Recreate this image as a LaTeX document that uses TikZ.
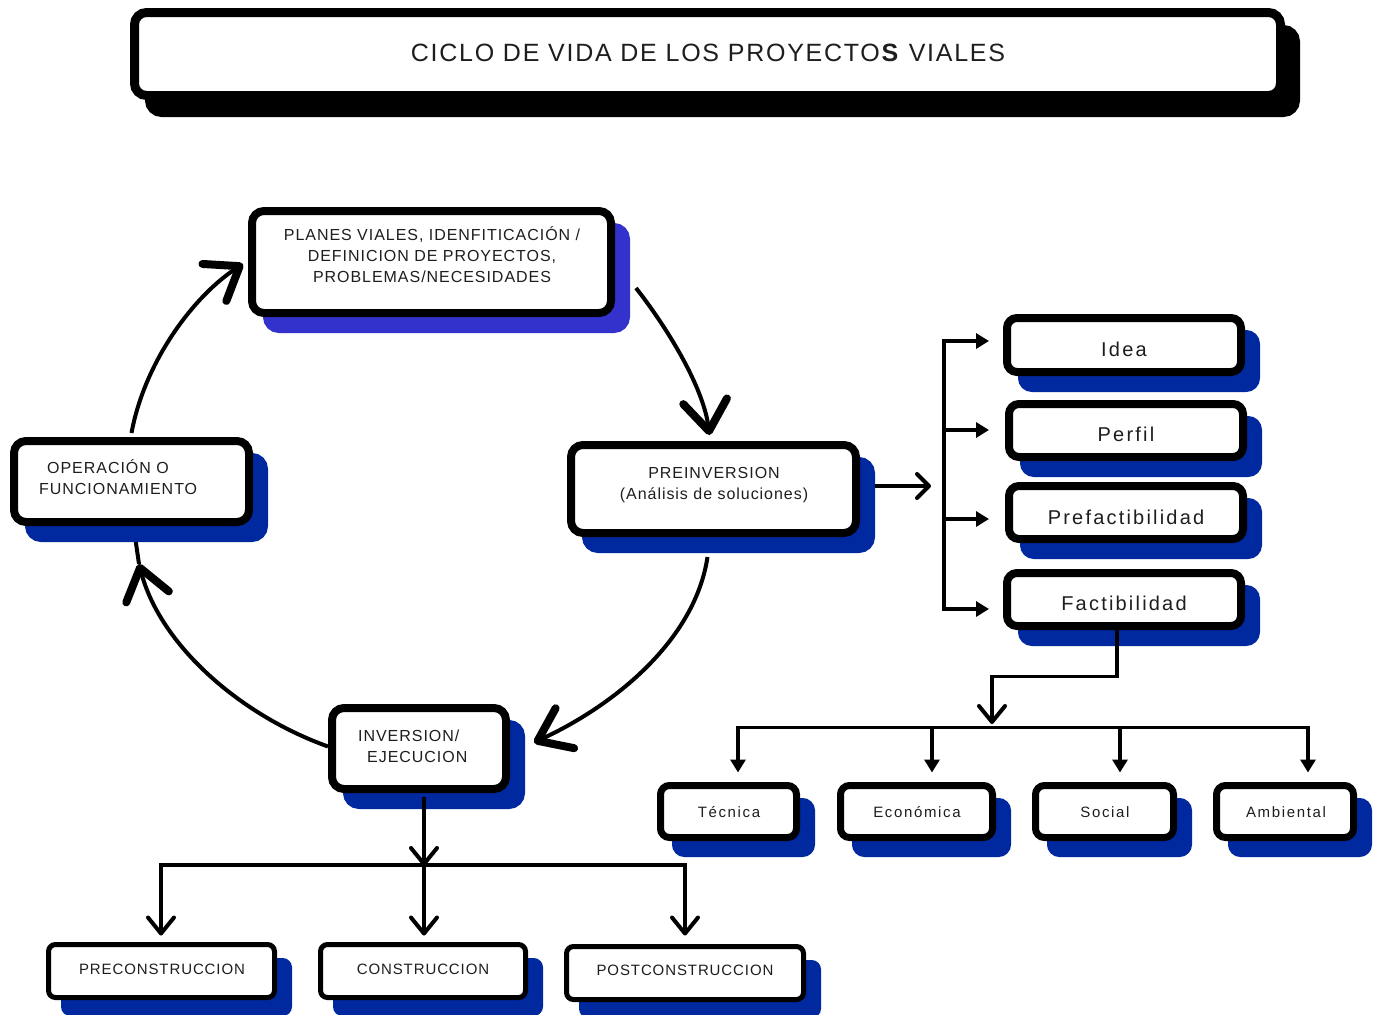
\documentclass[tikz,border=0pt]{standalone}
\usepackage{fontspec}
\setmainfont{Liberation Sans}
\newfontfamily\fTitle[LetterSpace=7]{Liberation Sans}
\newfontfamily\fCyc[LetterSpace=6]{Liberation Sans}
\newfontfamily\fWide[LetterSpace=11]{Liberation Sans}
\newfontfamily\fBot[LetterSpace=6]{Liberation Sans}
\usetikzlibrary{arrows.meta,shadows,calc}
\definecolor{shb}{RGB}{0,41,160}
\definecolor{shp}{RGB}{52,50,204}
\definecolor{txt}{RGB}{30,30,30}
\pgfdeclarelayer{bg}
\pgfsetlayers{bg,main}
\begin{document}
\begin{tikzpicture}[x=1pt,y=-1pt,
  box/.style={draw=black, fill=white, inner sep=0pt, line width=#1},
  sh/.style={general shadow={shadow xshift=15pt, shadow yshift=-16pt, fill=#1, draw=#1}},
  tn/.style={inner sep=0pt, text=txt, text depth=0pt},
  cyc/.style={line width=4pt, -{Straight Barb[length=30pt,width=44pt,line width=8pt,round]}},
  conn/.style={line width=3.5pt},
  tri/.style={-{Triangle[length=13pt,width=15pt]}},
  bothtri/.style={{Triangle[length=13pt,width=15pt]}-{Triangle[length=13pt,width=15pt]}},
  barb/.style={-{Straight Barb[length=12pt,width=24pt,line width=4pt,round]}},
  barbB/.style={-{Straight Barb[length=16pt,width=26pt,line width=4pt,round]}},
  bothbarb/.style={{Straight Barb[length=16pt,width=26pt,line width=4pt,round]}-{Straight Barb[length=16pt,width=26pt,line width=4pt,round]}},
  fcyc/.style={font=\fCyc\fontsize{16}{21}\selectfont, text height=11.4pt},
  fwide/.style={font=\fWide\fontsize{20}{24}\selectfont, text height=14.3pt},
  flow/.style={font=\fWide\fontsize{15}{18}\selectfont, text height=10.7pt},
  fbot/.style={font=\fBot\fontsize{15}{18}\selectfont, text height=10.7pt}
]
\useasboundingbox (0,0) rectangle (1382,1015);

% ---------- boxes ----------
\node[box=9pt, rounded corners=12pt, general shadow={shadow xshift=15pt, shadow yshift=-17pt, fill=black, draw=black},
      minimum width=1146pt, minimum height=83pt] (title) at (707.5,54) {};

\node[box=8pt, rounded corners=12pt, sh=shp, minimum width=359pt, minimum height=102pt] (plan) at (431.5,262) {};
\node[box=8pt, rounded corners=12pt, sh=shb, minimum width=235pt, minimum height=81pt] (op) at (131.5,481.5) {};
\node[box=8pt, rounded corners=12pt, sh=shb, minimum width=285pt, minimum height=88pt] (pre) at (713.5,489) {};
\node[box=8pt, rounded corners=12pt, sh=shb, minimum width=174pt, minimum height=81pt] (inv) at (419,748.5) {};

\node[box=8pt, rounded corners=10pt, sh=shb, minimum width=234pt, minimum height=54pt] (idea) at (1124,345) {};
\node[box=8pt, rounded corners=10pt, sh=shb, minimum width=234pt, minimum height=53pt] (perf) at (1126,430.5) {};
\node[box=8pt, rounded corners=10pt, sh=shb, minimum width=234pt, minimum height=53pt] (pref) at (1126,512.5) {};
\node[box=8pt, rounded corners=10pt, sh=shb, minimum width=234pt, minimum height=53pt] (fact) at (1124,599.5) {};

\node[box=7pt, rounded corners=9pt, sh=shb, minimum width=136pt, minimum height=52pt] (tec) at (728.5,811.5) {};
\node[box=7pt, rounded corners=9pt, sh=shb, minimum width=152pt, minimum height=52pt] (eco) at (916.5,811.5) {};
\node[box=7pt, rounded corners=9pt, sh=shb, minimum width=138pt, minimum height=52pt] (soc) at (1104.5,811.5) {};
\node[box=7pt, rounded corners=9pt, sh=shb, minimum width=137pt, minimum height=52pt] (amb) at (1285,811.5) {};

\node[box=5pt, rounded corners=7pt, sh=shb, minimum width=226pt, minimum height=53pt] (precon) at (161.5,971) {};
\node[box=5pt, rounded corners=7pt, sh=shb, minimum width=205pt, minimum height=53pt] (con) at (423,971) {};
\node[box=5pt, rounded corners=7pt, sh=shb, minimum width=237pt, minimum height=53pt] (post) at (685,973) {};

% ---------- texts ----------
\node[tn, font=\fTitle\fontsize{25}{30}\selectfont, text height=17.9pt] (ttlT) at (708,53)
  {CICLO DE VIDA DE LOS PROYECTO\textbf{S} VIALES};
\node[tn, fcyc, align=center, text height=53.4pt] (planT) at (432,256)
  {PLANES VIALES, IDENFITICACIÓN /\\DEFINICION DE PROYECTOS,\\PROBLEMAS/NECESIDADES};
\node[tn, fcyc, align=center, text height=32.4pt] (preT) at (714,483.5) {PREINVERSION\\(Análisis de soluciones)};
\node[tn, fcyc, align=left, anchor=west, text height=32.4pt] (opT) at (39,478.5) {\hspace*{8pt}OPERACIÓN O\\FUNCIONAMIENTO};
\node[tn, fcyc, align=left, anchor=west, text height=32.4pt] (invT) at (358,746.5) {INVERSION/\\\hspace*{9pt}EJECUCION};

\node[tn, fwide] (ideaT) at (1124,349) {Idea};
\node[tn, fwide] (perfT) at (1126,434) {Perfil};
\node[tn, fwide] (prefT) at (1126,517) {Prefactibilidad};
\node[tn, fwide] (factT) at (1124,603) {Factibilidad};

\node[tn, flow] (tecT) at (729,812) {Técnica};
\node[tn, flow] (ecoT) at (917,812) {Económica};
\node[tn, flow] (socT) at (1105,812) {Social};
\node[tn, flow] (ambT) at (1286,812) {Ambiental};

\node[tn, fbot] (preconT) at (162,969) {PRECONSTRUCCION};
\node[tn, fbot] (conT) at (423,969) {CONSTRUCCION};
\node[tn, fbot] (postT) at (685,970) {POSTCONSTRUCCION};

% ---------- connectors behind ----------
\coordinate (optip) at (139,564);
\coordinate (bk) at (931,486);
\begin{pgfonlayer}{bg}
  \draw[cyc] ($(plan.east)+(21,26)$) .. controls (665,325) and (703,385) .. ($(pre.north)+(-4,-6)$);
  \draw[cyc] ($(pre.south)+(-6,20)$) .. controls (695,640) and (615,705) .. ($(inv.east)+(24,-6)$);
  \draw[cyc] ($(inv.west)+(0,-2)$) .. controls (240,715) and (160,645) .. (optip);
  \draw[line width=4pt] (optip) -- ($(op.south)+(2,0)$);
  \draw[cyc] ($(op.north)+(0,-4)$) .. controls (145,360) and (195,295) .. ($(plan.west)+(-5,2)$);
  \draw[conn, barb] ($(pre.east)+(0,-3)$) -- (bk);
\end{pgfonlayer}

% ---------- tree connectors ----------
\draw[conn, bothtri] ($(idea.west)+(-14,-4)$) -- ($(idea.west)+(-59,-4)$)
   -- ($(fact.west)+(-59,9.5)$) -- ($(fact.west)+(-14,9.5)$);
\draw[conn, tri] ($(perf.west)+(-61,-0.5)$) -- ($(perf.west)+(-16,-0.5)$);
\draw[conn, tri] ($(pref.west)+(-61,6.5)$) -- ($(pref.west)+(-16,6.5)$);

\coordinate (split) at (992,724);
\draw[conn, barbB] ($(fact.south)+(-7,0)$) -- ($(fact.south)+(-7,46.5)$) -| (split);
\draw[conn, bothtri] ($(tec.north)+(9.5,-9.5)$) -- ($(tec.north)+(9.5,-54.5)$)
   -- ($(amb.north)+(23,-54.5)$) -- ($(amb.north)+(23,-9.5)$);
\draw[conn, tri] ($(eco.north)+(15.5,-54.5)$) -- ($(eco.north)+(15.5,-9.5)$);
\draw[conn, tri] ($(soc.north)+(15.5,-54.5)$) -- ($(soc.north)+(15.5,-9.5)$);

\coordinate (bsplit) at (424,866);
\draw[line width=4pt, barbB] ($(inv.south)+(5,4)$) -- (bsplit);
\draw[line width=4pt, bothbarb] ($(precon.north)+(-0.5,-6.5)$) -- ($(precon.north)+(-0.5,-77.5)$)
   -- ($(post.north)+(0,-79.5)$) -- ($(post.north)+(0,-8.5)$);
\draw[line width=4pt, barbB] ($(con.north)+(1,-77.5)$) -- ($(con.north)+(1,-6.5)$);
\end{tikzpicture}
\end{document}
